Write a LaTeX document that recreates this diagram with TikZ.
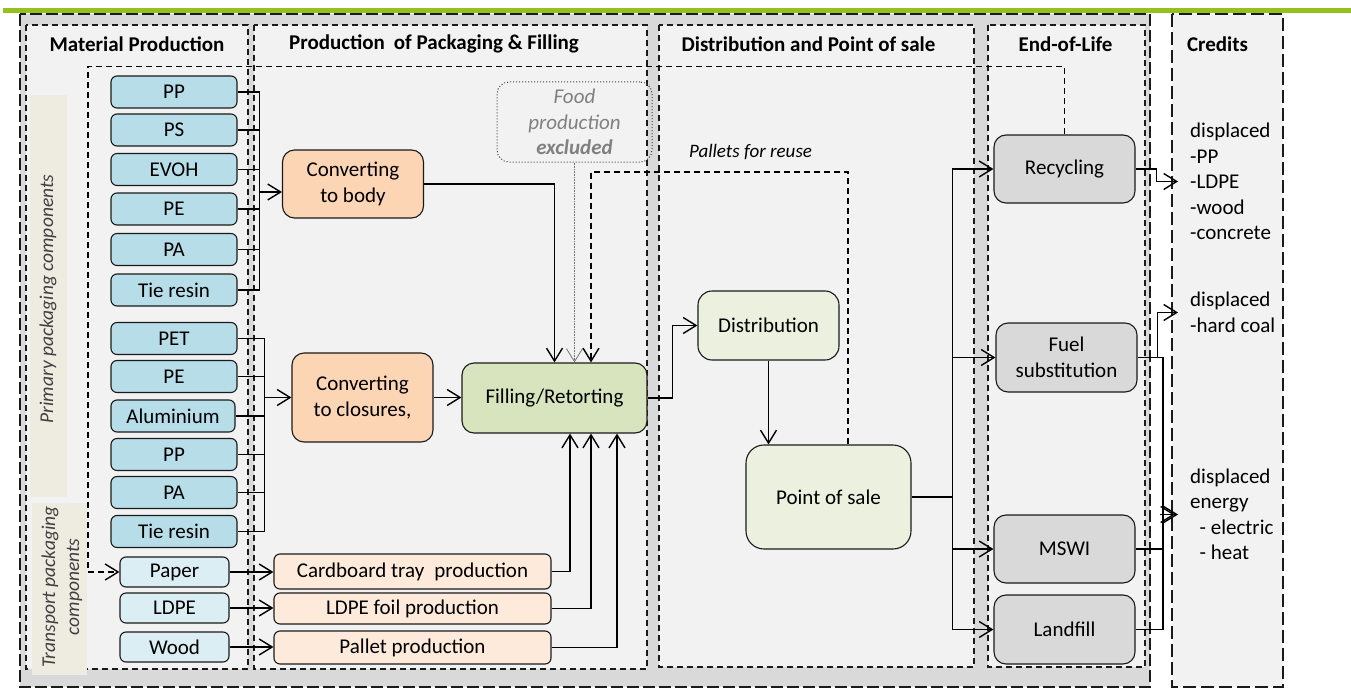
\documentclass[tikz,border=0pt]{standalone}
\usepackage{fontspec}
\setmainfont{Carlito}
\usetikzlibrary{arrows.meta}

\definecolor{topgreen}{HTML}{95C11F}
\definecolor{outergray}{HTML}{D9D9D9}
\definecolor{panelgray}{HTML}{F2F2F2}
\definecolor{labelbeige}{HTML}{EEECE1}
\definecolor{matblue}{HTML}{B7DDE8}
\definecolor{trblue}{HTML}{DAEEF3}
\definecolor{convorange}{HTML}{FCD5B5}
\definecolor{prodorange}{HTML}{FDEADA}
\definecolor{fillgreen}{HTML}{D7E4BD}
\definecolor{distgreen}{HTML}{EBF1DE}
\definecolor{eolgray}{HTML}{D9D9D9}
\definecolor{linecol}{HTML}{1A1A1A}

\tikzset{
  basebox/.style={draw=linecol, line width=1.1pt, rounded corners=7pt, inner sep=0pt, align=center},
  matbox/.style={basebox, fill=matblue, minimum width=126pt, minimum height=32pt, rounded corners=6pt},
  trbox/.style={basebox, fill=trblue, minimum width=109pt, minimum height=30pt, rounded corners=6pt},
  convbox/.style={basebox, fill=convorange, minimum width=141pt, rounded corners=12pt},
  prodbox/.style={basebox, fill=prodorange, minimum width=277pt, rounded corners=6pt},
  fillbox/.style={basebox, fill=fillgreen, minimum width=185pt, minimum height=70pt, rounded corners=12pt},
  distbox/.style={basebox, fill=distgreen, rounded corners=14pt},
  eolbox/.style={basebox, fill=eolgray, minimum width=141pt, minimum height=68pt, rounded corners=12pt},
  panel/.style={draw=linecol, line width=1.1pt, dash pattern=on 6pt off 4pt, fill=panelgray},
  hdr/.style={font=\fontsize{21}{25.5}\selectfont\bfseries},
  sidelabel/.style={font=\fontsize{19.5}{24}\selectfont\itshape, text=black!75, rotate=90, align=center},
  credit/.style={align=left, anchor=west, inner xsep=12pt, inner ysep=0pt},
  conn/.style={draw=black, line width=1.2pt},
  arr/.style={conn, -{Straight Barb[length=13pt,width=16pt,line width=1.4pt]}},
  dasharr/.style={arr, dash pattern=on 6pt off 4pt},
}

\begin{document}
\begin{tikzpicture}[x=1pt, y=-1pt, font=\fontsize{21}{25.5}\selectfont]
\useasboundingbox (0,0) rectangle (1351,690);

% top rule
\fill[topgreen] (3,8) rectangle (1351,13.5);

% outer system boundary and credits column
\draw[fill=outergray, draw=linecol, line width=1.1pt, dash pattern=on 12pt off 4pt] (20,14) rectangle (1150,687);
\draw[fill=panelgray, draw=linecol, line width=1.1pt, dash pattern=on 13pt off 5pt] (1172,14) rectangle (1283,687);

% life cycle stage panels
\draw[panel] (26,25) rectangle (248,669);
\draw[panel] (254,25) rectangle (647,669);
\draw[panel] (659,25) rectangle (974,667);
\draw[panel] (988,25) rectangle (1145,667);

% side labels
\fill[labelbeige] (30,95) rectangle (67,497);
\fill[labelbeige] (32,503) rectangle (87,675);
\node[sidelabel] (lprim) at (48,299) {Primary packaging components};
\node[sidelabel] (ltrans) at (62,587) {Transport packaging\\components};

% stage headers
\node[hdr] (h1) at (137,44) {Material Production};
\node[hdr] (h2) at (434,44) {Production\hspace{0.2em} of Packaging \& Filling};
\node[hdr] (h3) at (808.5,44) {Distribution and Point of sale};
\node[hdr] (h4) at (1065.5,44) {End-of-Life};
\node[hdr] (h5) at (1217.5,44) {Credits};

% material production
\node[matbox] (m1) at (174,92) {PP};
\node[matbox] (m2) at (174,130) {PS};
\node[matbox] (m3) at (174,169.5) {EVOH};
\node[matbox] (m4) at (174,209) {PE};
\node[matbox] (m5) at (174,249.5) {PA};
\node[matbox] (m6) at (174,290) {Tie resin};
\node[matbox] (m7) at (174,338.5) {PET};
\node[matbox] (m8) at (174,376.5) {PE};
\node[matbox, minimum width=124pt] (m9) at (173,416) {Aluminium};
\node[matbox] (m10) at (174,454.5) {PP};
\node[matbox] (m11) at (174,492.5) {PA};
\node[matbox] (m12) at (174,531.5) {Tie resin};
\node[trbox] (paper) at (174.5,572) {Paper};
\node[trbox] (ldpe) at (174.5,608) {LDPE};
\node[trbox] (wood) at (174.5,647) {Wood};

% packaging production and filling
\node[convbox, minimum height=68pt] (cb) at (353,184) {Converting\\to body};
\node[convbox, minimum height=89pt] (cc) at (362.5,397.5) {Converting\\to closures,};
\node[fillbox] (fill) at (554.5,398) {Filling/Retorting};
\node[prodbox, minimum height=35pt] (card) at (412.5,571.5) {Cardboard tray\hspace{0.25em} production};
\node[prodbox, minimum height=31pt] (foil) at (412.5,608.5) {LDPE foil production};
\node[prodbox, minimum height=33pt] (pal) at (412.5,647.5) {Pallet production};
\node[draw=black!75, line width=1pt, dotted, rounded corners=12pt, minimum width=155pt, minimum height=80pt, inner sep=0pt, align=center, text=black!50, font=\fontsize{21}{25.5}\selectfont\itshape] (food) at (574.5,122) {Food\\production\\\textbf{excluded}};

% distribution and point of sale
\node[distbox, minimum width=141pt, minimum height=69pt] (dist) at (768.5,325.5) {Distribution};
\node[distbox, minimum width=165pt, minimum height=104pt, rounded corners=18pt] (pos) at (828.5,497) {Point of sale};
\node[font=\fontsize{19}{23}\selectfont\itshape] (reuse) at (750.5,152) {Pallets for reuse};

% end of life
\node[eolbox] (rec) at (1064.5,169) {Recycling};
\node[eolbox, minimum height=69pt] (fuel) at (1066.5,357.5) {Fuel\\substitution};
\node[eolbox] (msw) at (1064.5,549) {MSWI};
\node[eolbox, minimum height=69pt] (lf) at (1064.5,629.5) {Landfill};

% credits
\node[credit] (cr1) at (1178,181.5) {displaced\\-PP\\-LDPE\\-wood\\-concrete};
\node[credit] (cr2) at (1178,312.5) {displaced\\-hard coal};
\node[credit] (cr3) at (1178,514.5) {displaced\\energy\\\hspace{0.45em}- electric\\\hspace{0.45em}- heat};

% collecting lines of the body materials
\coordinate (b1) at (259.5,0);
\foreach \m in {m1,m2,m3,m4,m5,m6} \draw[conn] (\m.east) -- (\m.east -| b1);
\draw[conn] (m1.east -| b1) -- (m6.east -| b1);
\draw[arr] ([yshift=-8pt]cb.west -| b1) -- ([yshift=-8pt]cb.west);

% collecting lines of the closure materials
\coordinate (b2) at (264.5,0);
\foreach \m in {m7,m8,m9,m10,m11,m12} \draw[conn] (\m.east) -- (\m.east -| b2);
\draw[conn] (m7.east -| b2) -- (m12.east -| b2);
\draw[arr, line width=1.6pt] (cc.west -| b2) -- (cc.west);

% transport packaging
\draw[arr] (paper.east) -- (paper.east -| card.west);
\draw[arr] (ldpe.east) -- (ldpe.east -| foil.west);
\draw[arr] (wood.east) -- (wood.east -| pal.west);
\draw[arr] (card.east) -| ([xshift=15.5pt]fill.south);
\draw[arr] (foil.east) -| ([xshift=36.5pt]fill.south);
\draw[arr] (pal.east) -| ([xshift=62.5pt]fill.south);

% into filling
\draw[arr] (cb.east) -| (fill.north);
\draw[arr] (cc.east) -- (cc.east -| fill.west);
\draw[draw=black!55, line width=0.6pt, densely dotted, -{Straight Barb[length=13pt,width=16pt,line width=0.8pt]}] (food.south) -- (food.south |- fill.north);

% distribution chain
\draw[arr] (fill.east) -- ++(25,0) |- (dist.west);
\draw[arr] (dist.south) -- (dist.south |- pos.north);

% end of life routes
\coordinate (b3) at (952.5,0);
\draw[conn, line width=1.8pt] (pos.east) -- (pos.east -| b3) -- (b3 |- rec.west);
\draw[arr] (pos.east -| b3) |- (rec.west);
\draw[arr] (pos.east -| b3) |- (fuel.west);
\draw[arr] (pos.east -| b3) |- (msw.west);
\draw[arr] (pos.east -| b3) |- (lf.west);

% credits routes
\draw[arr] (rec.east) -- ++(21,0) |- (cr1.west);
\draw[arr] (fuel.east) -- ++(20,0) |- (cr2.west);
\coordinate (b4) at (1163,0);
\draw[conn] (fuel.east) -- (fuel.east -| b4) -- (lf.east -| b4) -- (lf.east);
\draw[conn] (msw.east) -- (msw.east -| b4);
\draw[arr] (cr3.west -| b4) -- (cr3.west);
\draw[arr] ([xshift=-3pt]cr3.west -| b4) -- ([xshift=-3pt]cr3.west);

% recycled material loop and pallet reuse loop
\coordinate (rl) at (88,66.5);
\draw[dasharr] (rec.north) |- (rl) |- (paper.west);
\coordinate (pl) at (848,172);
\draw[dasharr] (pos.north -| pl) -- (pl) -| ([xshift=36.5pt]fill.north);
\end{tikzpicture}
\end{document}
